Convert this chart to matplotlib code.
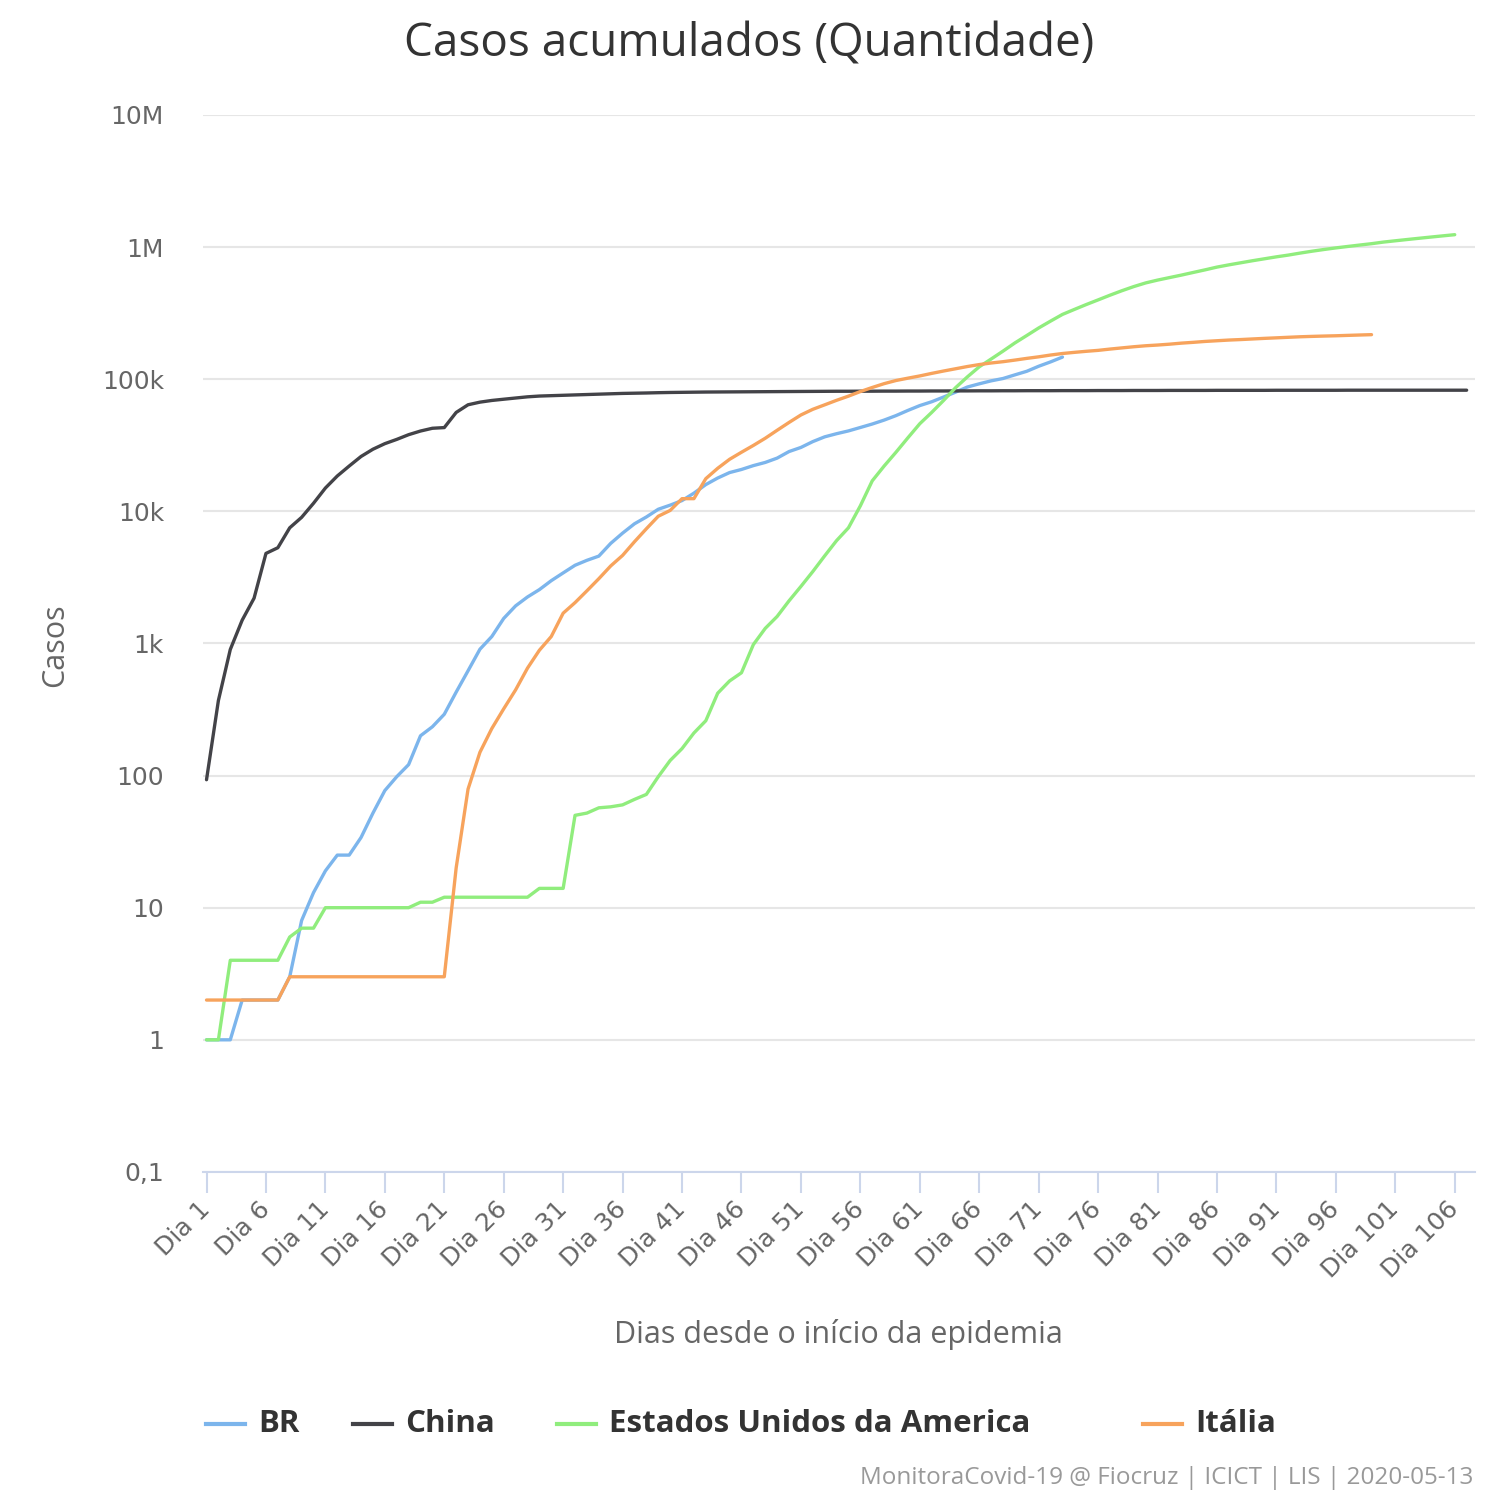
import matplotlib
matplotlib.use('Agg')
import matplotlib.pyplot as plt
from matplotlib.lines import Line2D
from matplotlib.ticker import FixedLocator, NullLocator
import numpy as np

# cumulative cases per day since the start of each epidemic
br = [1, 1, 1, 2, 2, 2, 2, 3, 8, 13,
      19, 25, 25, 34, 52, 77, 98, 121, 200, 234,
      291, 428, 621, 904, 1128, 1546, 1924, 2247, 2554, 2985,
      3417, 3904, 4256, 4579, 5717, 6836, 8044, 9056, 10360, 11130,
      12056, 13717, 15927, 17857, 19638, 20727, 22169, 23430, 25262, 28320,
      30425, 33682, 36599, 38654, 40581, 43079, 45757, 49000, 53000, 58000,
      63100, 67446, 73235, 79685, 87187, 92202, 97100, 101147, 107780, 114715,
      125218, 135106, 146894]

china = [93, 370, 900, 1500, 2200, 4800, 5300, 7500, 9000, 11500,
         15000, 18500, 22000, 26000, 29500, 32500, 35000, 38000, 40500, 42500,
         43000, 56000, 64000, 67000, 69000, 70500, 72000, 73500, 74500, 75000,
         75500, 76000, 76500, 77000, 77500, 78000, 78300, 78600, 79000, 79300,
         79500, 79700, 79900, 80000, 80100, 80200, 80300, 80400, 80500, 80600,
         80700, 80800, 80900, 81000, 81000, 81100, 81100, 81200, 81200, 81300,
         81300, 81400, 81400, 81500, 81500, 81600, 81600, 81700, 81700, 81800,
         81800, 81800, 81900, 81900, 81900, 82000, 82000, 82000, 82100, 82100,
         82100, 82200, 82200, 82200, 82200, 82300, 82300, 82300, 82300, 82300,
         82400, 82400, 82400, 82400, 82400, 82400, 82500, 82500, 82500, 82500,
         82500, 82500, 82500, 82500, 82500, 82500, 82500]

eua = [1, 1, 4, 4, 4, 4, 4, 6, 7, 7,
       10, 10, 10, 10, 10, 10, 10, 10, 11, 11,
       12, 12, 12, 12, 12, 12, 12, 12, 14, 14,
       14, 50, 52, 57, 58, 60, 66, 72, 98, 130,
       160, 210, 260, 420, 520, 600, 980, 1300, 1600, 2100,
       2700, 3500, 4600, 6000, 7500, 11000, 17000, 22000, 28000, 36000,
       46000, 56000, 69000, 86000, 104000, 124000, 142000, 163000, 188000, 214000,
       244000, 275000, 309000, 337000, 367000, 398000, 432000, 467000, 502000, 535000,
       562000, 587000, 613000, 642000, 672000, 705000, 733000, 760000, 788000, 815000,
       843000, 869000, 900000, 930000, 958000, 985000, 1010000, 1035000, 1060000, 1090000,
       1115000, 1140000, 1165000, 1190000, 1215000, 1240000]

italia = [2, 2, 2, 2, 2, 2, 2, 3, 3, 3,
          3, 3, 3, 3, 3, 3, 3, 3, 3, 3,
          3, 20, 79, 150, 227, 320, 445, 650, 888, 1128,
          1694, 2036, 2502, 3089, 3858, 4636, 5883, 7375, 9172, 10149,
          12462, 12462, 17660, 21157, 24747, 27980, 31506, 35713, 41035, 47021,
          53578, 59138, 63927, 69176, 74386, 80589, 86498, 92472, 97689, 101739,
          105792, 110574, 115242, 119827, 124632, 128948, 132547, 135586, 139422, 143626,
          147577, 152271, 156363, 159516, 162488, 165155, 168941, 172434, 175925, 178972,
          181228, 183957, 187327, 189973, 192994, 195351, 197675, 199414, 201505, 203591,
          205463, 207428, 209328, 210717, 211938, 213013, 214457, 215858, 217185]

series_names = ['BR', 'China', 'Estados Unidos da America', 'Itália']
series_data = [br, china, eua, italia]
series_colors = ['#7cb5ec', '#434348', '#90ed7d', '#f7a35c']

tick_days = list(range(1, 107, 5))
tick_labels = ['Dia %d' % d for d in tick_days]
y_ticks = [0.1, 1, 10, 100, 1e3, 1e4, 1e5, 1e6, 1e7]
y_labels = ['0,1', '1', '10', '100', '1k', '10k', '100k', '1M', '10M']

fig = plt.figure(figsize=(15, 15), dpi=100)
ax = fig.add_axes([0.1353, 0.2187, 0.848, 0.7047])

for name, vals, col in zip(series_names, series_data, series_colors):
    days = np.arange(1, len(vals) + 1)
    ax.plot(days, vals, color=col, linewidth=2.4, solid_capstyle='round')

ax.set_yscale('log')
ax.set_ylim(0.1, 1e7)
ax.set_xlim(0.7, 107.7)
ax.yaxis.set_major_locator(FixedLocator(y_ticks))
ax.yaxis.set_minor_locator(NullLocator())
ax.set_yticklabels(y_labels, fontsize=18, color='#666666', family='DejaVu Sans')
ax.tick_params(axis='y', length=0, pad=28)
ax.grid(axis='y', color='#e6e6e6', linewidth=1.5)
ax.set_axisbelow(True)

ax.xaxis.set_major_locator(FixedLocator(tick_days))
ax.xaxis.set_minor_locator(NullLocator())
ax.set_xticklabels(tick_labels, rotation=45, ha='right', va='center',
                   rotation_mode='anchor', fontsize=18, color='#666666',
                   family='DejaVu Sans')
ax.tick_params(axis='x', length=15, width=1.5, color='#ccd6eb', pad=9)

for s in ['left', 'top', 'right']:
    ax.spines[s].set_visible(False)
ax.spines['bottom'].set_color('#ccd6eb')
ax.spines['bottom'].set_linewidth(1.5)

fig.text(0.4993, 0.970, 'Casos acumulados (Quantidade)', ha='center', va='center',
         fontsize=33, color='#333333', family='Open Sans')
fig.text(0.037, 0.57, 'Casos', rotation=90, ha='center', va='center',
         fontsize=22, color='#666666', family='Open Sans')
fig.text(0.559, 0.110, 'Dias desde o início da epidemia', ha='center', va='center',
         fontsize=22, color='#666666', family='Open Sans')

# legend laid out by hand (Highcharts spacing is uneven)
leg_x = [0.137, 0.235, 0.371, 0.762]
for x0, name, col in zip(leg_x, series_names, series_colors):
    fig.add_artist(Line2D([x0, x0 + 0.026], [0.0507, 0.0507], color=col,
                          linewidth=3, transform=fig.transFigure))
    fig.text(x0 + 0.035, 0.0507, name, ha='left', va='center', fontsize=22.5,
             fontweight='bold', color='#333333', family='Open Sans')

fig.text(0.982, 0.015, 'MonitoraCovid-19 @ Fiocruz | ICICT | LIS | 2020-05-13',
         ha='right', va='center', fontsize=17.5, color='#999999', family='Open Sans')

fig.savefig('out.png', dpi=100, facecolor='white')
